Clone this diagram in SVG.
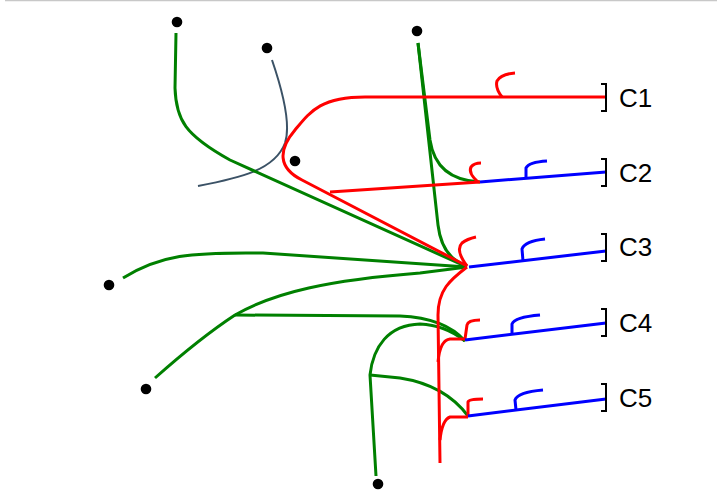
<svg xmlns="http://www.w3.org/2000/svg" width="717" height="503" viewBox="0 0 717 503">
<style>
.g{fill:none;stroke:#008000;stroke-width:3;stroke-linecap:butt;stroke-linejoin:round}
.r{fill:none;stroke:#ff0000;stroke-width:3;stroke-linejoin:round}
.b{fill:none;stroke:#0000ff;stroke-width:3;stroke-linejoin:round}
.s{fill:none;stroke:#3b5266;stroke-width:2}
.br{fill:none;stroke:#000;stroke-width:2}
.dot{fill:#000}
.lbl{font-family:"Liberation Sans",Arial,sans-serif;font-size:26px;fill:#000}
</style>
<rect x="0" y="0" width="717" height="503" fill="#fff"/>
<line x1="5" y1="0.5" x2="717" y2="0.5" stroke="#c8c8c8" stroke-width="1.5"/>
<g id="connectors">
  <path class="s" d="M272,60 C284,95 291,125 285,143 C275,170 240,178 198,186"/>
  <path class="g" d="M176,33 L175,88 C176,120 185,135 230,160 L467,267"/>
  <path class="g" d="M418,43 L438,225 Q442,258 467,266"/>
  <path class="g" d="M418,43 L430,140 Q436,180 480,182"/>
  <path class="g" d="M123,278 C160,255 190,252 263,253 L467,267"/>
  <path class="g" d="M155,378 Q200,338 235,315 C275,292 330,280 420,273 L467,267"/>
  <path class="g" d="M235,315 L400,316 Q445,318 465,341"/>
  <path class="g" d="M376,476 L370,375 C373,347 388,325 420,324 Q445,325 465,341"/>
  <path class="g" d="M370,375 L400,378 Q445,385 468,416"/>
  <path class="r" d="M606,97 L365,97 C320,97 310,112 295,130 C278,150 278,168 302,180 L467,266"/>
  <path class="r" d="M330,192 L480,182"/>
  <path class="r" d="M502,97 Q495,88 497,81 Q501,74 515,73"/>
  <path class="r" d="M478,182 Q468,173 471,167 Q474,163 481,163"/>
  <path class="r" d="M467,266 Q455,250 462,243 Q467,239 476,237"/>
  <path class="r" d="M467,267 C450,280 438,290 438,315 L440,463"/>
  <path class="r" d="M465,339 L467,325 Q468,320 480,320"/>
  <path class="r" d="M465,339 L450,339 Q440,340 438,362"/>
  <path class="r" d="M468,417 L468,402 Q469,399 483,399"/>
  <path class="r" d="M468,417 L450,417 Q442,420 440,440"/>
  <path class="b" d="M480,182 L606,172"/>
  <path class="b" d="M526,178 L526,168 Q529,162 547,161"/>
  <path class="b" d="M469,267 L606,251"/>
  <path class="b" d="M523,261 L522,249 Q525,241 545,239"/>
  <path class="b" d="M465,340 L606,323"/>
  <path class="b" d="M512,334 L512,324 Q515,317 540,315"/>
  <path class="b" d="M468,416 L606,399"/>
  <path class="b" d="M516,410 L515,400 Q518,392 543,390"/>
</g>
<g id="n-d1"><circle class="dot" cx="177" cy="22" r="5.3"/></g>
<g id="n-d2"><circle class="dot" cx="267" cy="48" r="5.3"/></g>
<g id="n-d3"><circle class="dot" cx="417" cy="31" r="5.3"/></g>
<g id="n-d4"><circle class="dot" cx="295" cy="161" r="5.3"/></g>
<g id="n-d5"><circle class="dot" cx="109" cy="285" r="5.3"/></g>
<g id="n-d6"><circle class="dot" cx="146" cy="389" r="5.3"/></g>
<g id="n-d7"><circle class="dot" cx="378" cy="484" r="5.3"/></g>
<g id="n-C1"><path class="br" d="M601,84 H606 V111 H601"/><text class="lbl" x="619" y="107">C1</text></g>
<g id="n-C2"><path class="br" d="M601,159 H606 V186 H601"/><text class="lbl" x="619" y="182">C2</text></g>
<g id="n-C3"><path class="br" d="M601,234 H606 V261 H601"/><text class="lbl" x="619" y="256">C3</text></g>
<g id="n-C4"><path class="br" d="M601,309 H606 V336 H601"/><text class="lbl" x="619" y="332">C4</text></g>
<g id="n-C5"><path class="br" d="M601,384 H606 V411 H601"/><text class="lbl" x="619" y="407">C5</text></g>
</svg>
